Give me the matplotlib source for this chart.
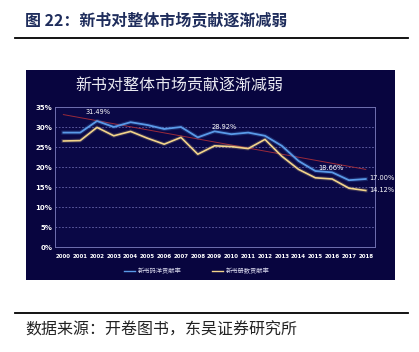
import numpy as np
import matplotlib
matplotlib.use('Agg')
import matplotlib.pyplot as plt
from matplotlib.patches import Rectangle
from matplotlib.lines import Line2D

plt.rcParams['font.family'] = ['Noto Sans CJK SC', 'DejaVu Sans']
plt.rcParams['axes.unicode_minus'] = False

# 数据
years = list(range(2000, 2019))
maiyang = [28.6, 28.6, 31.49, 30.0, 31.2, 30.5, 29.5, 30.0, 27.4, 28.92,
           28.2, 28.6, 27.8, 25.3, 21.5, 19.0, 18.66, 16.7, 17.00]
cehshu = [26.5, 26.6, 29.9, 27.8, 28.9, 27.2, 25.7, 27.4, 23.2, 25.3,
          25.1, 24.6, 26.9, 22.7, 19.4, 17.3, 17.0, 14.7, 14.12]
trend_x = [2000, 2018]
trend_y = [33.1, 19.4]
yticks = [0, 5, 10, 15, 20, 25, 30, 35]
ann_x = [2002, 2009, 2016, 2018, 2018]
ann_y = [31.49, 28.92, 18.66, 17.00, 14.12]
ann_txt = ['31.49%', '28.92%', '18.66%', '17.00%', '14.12%']

W, H = 419, 352
def fx(px):
    return px / W
def fy(py):
    return 1 - py / H

fig = plt.figure(figsize=(W / 100, H / 100), dpi=100)
fig.patch.set_facecolor('white')

# 外部标题和分隔线
fig.text(fx(25), fy(20), '图 22：新书对整体市场贡献逐渐减弱', fontsize=11.5, fontweight='bold',
         color='#1f2d5c', va='center', ha='left')
fig.add_artist(Line2D([fx(15), fx(408)], [fy(38), fy(38)], color='black', lw=1.3))
fig.add_artist(Line2D([fx(15), fx(408)], [fy(313), fy(313)], color='black', lw=1.3))
fig.text(fx(25), fy(330), '数据来源：开卷图书，东吴证券研究所', fontsize=11.5,
         color='#222222', va='center', ha='left')

# 深色底板
fig.add_artist(Rectangle((fx(26), fy(280)), fx(395) - fx(26), fy(70) - fy(280),
                         transform=fig.transFigure, facecolor='#08053f', edgecolor='none', zorder=0))
fig.text(fx(75), fy(86), '新书对整体市场贡献逐渐减弱', fontsize=11.5, color='#e8e8f0',
         va='center', ha='left')

ax = fig.add_axes([fx(55), fy(247), fx(375) - fx(55), fy(107) - fy(247)])
ax.set_facecolor('#0a0846')
ax.set_xlim(1999.5, 2018.55)
ax.set_ylim(0, 35)

for y in yticks[1:-1]:
    ax.axhline(y, color='#6a6ab0', lw=0.6, ls=(0, (2, 2)), zorder=1)

ax.plot(trend_x, trend_y, color='#9a2a3a', lw=0.7, zorder=2)
ax.plot(years, maiyang, color='#4c8de0', lw=3.0, alpha=0.22, zorder=3, solid_joinstyle='round')
ax.plot(years, maiyang, color='#5a9ae8', lw=1.3, zorder=4, solid_joinstyle='round')
ax.plot(years, cehshu, color='#f2d48a', lw=2.8, alpha=0.18, zorder=3, solid_joinstyle='round')
ax.plot(years, cehshu, color='#f2d48a', lw=1.2, zorder=4, solid_joinstyle='round')

offsets = [(-0.7, 2.3), (-0.2, 1.2), (-0.8, 1.0), (0.2, 0.3), (0.2, 0.2)]
for x, y, t, (dx, dy) in zip(ann_x, ann_y, ann_txt, offsets):
    ax.text(x + dx, y + dy, t, fontsize=4.8, color='white', ha='left', va='center', zorder=5,
            family='DejaVu Sans', clip_on=False)

ax.set_yticks(yticks)
ax.set_yticklabels([f'{v}%' for v in yticks])
ax.set_xticks(years)
ax.set_xticklabels([str(y) for y in years])
ax.tick_params(axis='y', length=0, pad=2, labelsize=5, labelcolor='white')
ax.tick_params(axis='x', length=0, pad=5, labelsize=4.0, labelcolor='white')
for lab in ax.get_xticklabels() + ax.get_yticklabels():
    lab.set_fontweight('bold')
    lab.set_family('DejaVu Sans')
for s in ax.spines.values():
    s.set_color('#7070b0')
    s.set_linewidth(0.7)

# 图例
fig.add_artist(Line2D([fx(124), fx(135)], [fy(271), fy(271)], color='#5a9ae8', lw=1))
fig.text(fx(138), fy(271), '新书码洋贡献率', fontsize=4.5, color='#dcdcf0', va='center', ha='left')
fig.add_artist(Line2D([fx(212), fx(223)], [fy(271), fy(271)], color='#f2d48a', lw=1))
fig.text(fx(226), fy(271), '新书册数贡献率', fontsize=4.5, color='#dcdcf0', va='center', ha='left')

fig.savefig('out.png', dpi=100)
